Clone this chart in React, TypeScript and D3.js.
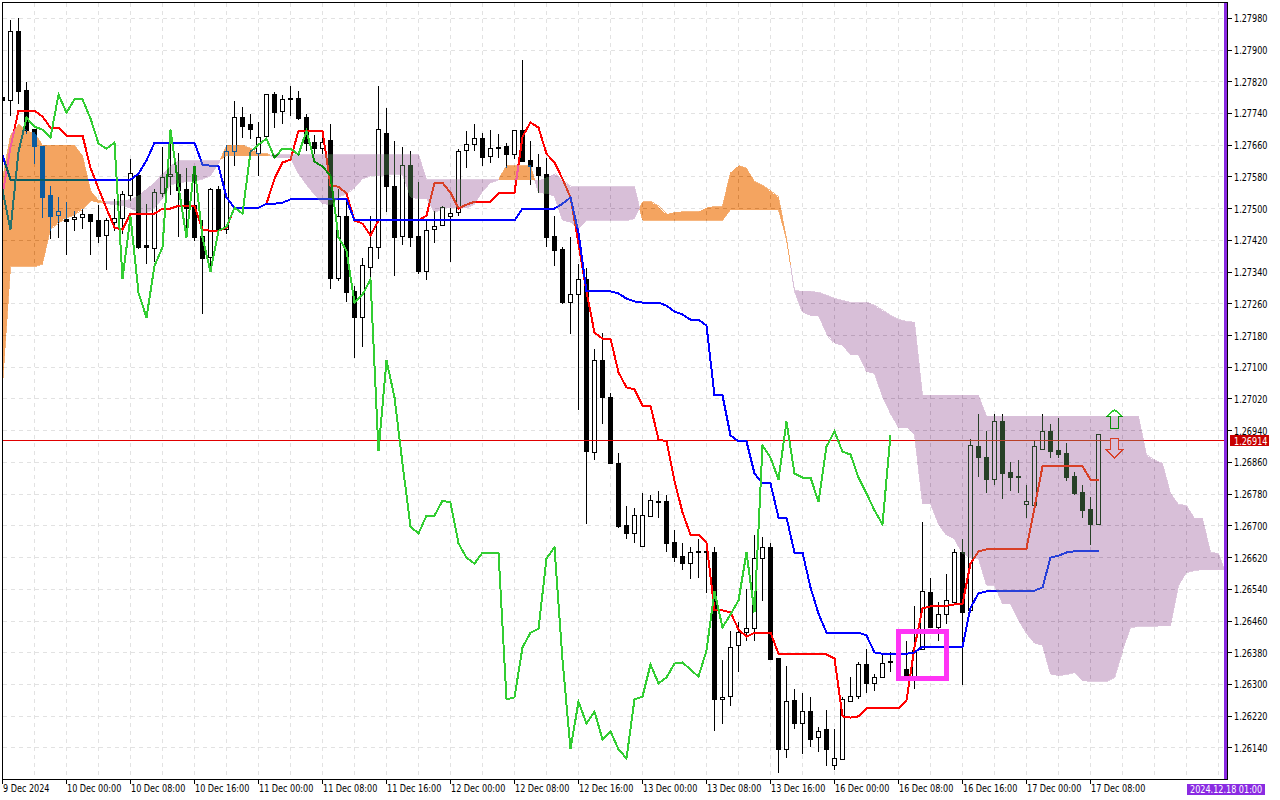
import React from "react";
import * as d3 from "d3";

// All prices in points: 127980 means 1.27980. One bar is one hour; bar 0 is 9 Dec 2024.
const opens = [127781,127773,127947,127798,127700,127657,127534,127483,127473,127473,127478,127486,127471,127433,127466,127476,127534,127584,127408,127400,127539,127582,127587,127549,127508,127430,127377,127549,127448,127644,127730,127713,127639,127682,127788,127745,127778,127778,127730,127667,127652,127672,127324,127481,127292,127226,127352,127403,127690,127556,127430,127609,127430,127342,127448,127458,127481,127491,127647,127662,127677,127632,127655,127657,127637,127697,127622,127604,127587,127430,127398,127264,127284,127322,126886,127118,127025,126858,126702,126682,126649,126725,126762,126762,126659,126624,126606,126636,126636,126634,126264,126271,126400,126432,126442,126619,126647,126367,126138,126261,126203,126233,126168,126188,126097,126112,126258,126271,126352,126304,126319,126359,126342,126339,126321,126390,126533,126445,126478,126508,126634,126488,126901,126873,126818,126964,126836,126825,126755,126752,126894,126939,126891,126883,126825,126785,126742,126705];
const closes = [127773,127947,127796,127697,127657,127529,127481,127493,127468,127478,127486,127468,127430,127471,127476,127536,127589,127403,127403,127541,127579,127587,127546,127501,127428,127375,127549,127448,127644,127730,127707,127700,127680,127788,127743,127776,127776,127728,127665,127652,127667,127324,127481,127289,127226,127357,127403,127700,127556,127428,127609,127428,127342,127445,127455,127503,127488,127644,127662,127677,127629,127652,127652,127637,127697,127619,127607,127584,127428,127395,127264,127284,127322,126889,127118,127025,126858,126699,126682,126727,126727,126765,126760,126657,126621,126606,126634,126634,126634,126264,126269,126395,126432,126442,126619,126647,126364,126138,126258,126203,126233,126163,126183,126138,126115,126264,126271,126352,126304,126319,126354,126357,126339,126321,126387,126536,126445,126478,126513,126634,126483,126904,126873,126818,126964,126833,126823,126823,126762,126901,126939,126888,126881,126823,126783,126740,126705,126931];
const highs = [127781,127977,127982,127821,127702,127657,127559,127529,127518,127496,127501,127486,127511,127478,127524,127544,127627,127589,127513,127551,127655,127697,127642,127604,127604,127471,127554,127559,127660,127773,127758,127740,127718,127788,127796,127788,127811,127798,127740,127687,127685,127713,127551,127526,127307,127377,127483,127811,127755,127672,127657,127647,127569,127473,127496,127508,127503,127652,127697,127713,127692,127700,127690,127665,127697,127876,127672,127639,127629,127481,127403,127430,127362,127350,127148,127188,127035,126886,126750,126745,126785,126778,126788,126778,126692,126657,126647,126669,126647,126647,126364,126437,126458,126543,126679,126674,126657,126367,126347,126291,126279,126269,126195,126238,126190,126269,126319,126357,126392,126329,126379,126384,126374,126412,126498,126712,126571,126510,126579,126642,126667,126921,126982,126941,126984,126984,126861,126866,126805,126916,126982,126957,126974,126909,126838,126803,126775,126931];
const lows = [127773,127735,127765,127690,127614,127478,127425,127428,127385,127445,127450,127385,127415,127347,127445,127438,127521,127398,127362,127365,127529,127534,127430,127428,127420,127236,127345,127440,127438,127607,127680,127677,127584,127682,127705,127715,127735,127723,127647,127639,127639,127299,127319,127266,127125,127153,127327,127375,127493,127332,127408,127405,127337,127322,127415,127458,127367,127483,127604,127647,127607,127617,127629,127604,127627,127619,127561,127539,127403,127357,127261,127186,126994,126707,126866,126957,126858,126697,126669,126659,126649,126725,126722,126636,126611,126591,126568,126571,126533,126183,126203,126248,126332,126412,126412,126513,126364,126077,126117,126188,126127,126143,126130,126097,126087,126112,126258,126264,126281,126284,126319,126332,126309,126309,126291,126390,126445,126412,126455,126508,126299,126483,126825,126783,126805,126768,126788,126783,126720,126752,126894,126871,126871,126815,126780,126720,126654,126705];

const tenkan = [127534,127655,127748,127748,127748,127733,127705,127705,127685,127685,127685,127604,127551,127501,127453,127448,127488,127488,127488,127488,127501,127501,127508,127508,127508,127448,127445,127445,127453,127503,127503,127503,127503,127513,127576,127617,127624,127697,127697,127697,127697,127559,127556,127539,127471,127463,127433,127471,127471,127471,127471,127471,127471,127483,127566,127566,127541,127501,127511,127518,127518,127518,127539,127541,127541,127682,127718,127705,127639,127617,127576,127529,127413,127292,127188,127173,127173,127088,127050,127045,127004,127004,126919,126914,126815,126735,126679,126679,126659,126488,126488,126483,126440,126422,126432,126432,126432,126379,126379,126379,126379,126379,126379,126377,126367,126221,126218,126221,126241,126241,126241,126241,126241,126261,126395,126493,126498,126500,126500,126503,126505,126606,126637,126642,126644,126644,126644,126644,126644,126747,126851,126853,126853,126853,126851,126851,126818,126818];
const kijun = [127635,127574,127574,127574,127574,127574,127574,127574,127574,127574,127574,127574,127574,127574,127574,127574,127574,127589,127622,127667,127667,127667,127667,127667,127667,127612,127609,127609,127529,127503,127503,127503,127503,127513,127513,127516,127524,127524,127524,127524,127524,127524,127524,127524,127471,127471,127471,127471,127471,127471,127471,127471,127471,127471,127471,127471,127471,127471,127471,127471,127471,127471,127471,127471,127471,127501,127501,127501,127501,127501,127513,127529,127440,127292,127292,127292,127292,127287,127274,127267,127264,127264,127264,127256,127241,127234,127221,127221,127206,127030,127030,126929,126914,126914,126833,126808,126808,126722,126722,126634,126634,126546,126480,126432,126432,126432,126432,126432,126425,126382,126379,126379,126379,126379,126382,126397,126397,126397,126397,126397,126397,126495,126531,126536,126538,126538,126538,126538,126538,126538,126546,126621,126626,126634,126637,126637,126639,126639];
const chikou = [127549,127448,127644,127730,127707,127700,127680,127788,127743,127776,127776,127728,127665,127652,127667,127324,127481,127289,127226,127357,127403,127700,127556,127428,127609,127428,127342,127445,127455,127503,127488,127644,127662,127677,127629,127652,127652,127637,127697,127619,127607,127584,127428,127395,127264,127284,127322,126889,127118,127025,126858,126699,126682,126727,126727,126765,126760,126657,126621,126606,126634,126634,126634,126264,126269,126395,126432,126442,126619,126647,126364,126138,126258,126203,126233,126163,126183,126138,126115,126264,126271,126352,126304,126319,126354,126357,126339,126321,126387,126536,126445,126478,126513,126634,126483,126904,126873,126818,126964,126833,126823,126823,126762,126901,126939,126888,126881,126823,126783,126740,126705,126931];
const spanA = [127576,127685,127713,127695,127692,127660,127660,127660,127660,127660,127634,127546,127521,127513,127511,127508,127501,127491,127491,127503,127526,127561,127566,127569,127571,127576,127584,127614,127660,127660,127660,127652,127639,127639,127629,127629,127629,127589,127561,127536,127513,127511,127531,127539,127554,127576,127584,127584,127587,127587,127587,127529,127526,127526,127491,127503,127503,127503,127503,127513,127544,127566,127574,127609,127609,127609,127609,127541,127539,127531,127471,127466,127450,127471,127471,127471,127471,127471,127471,127476,127518,127518,127506,127486,127491,127493,127493,127493,127503,127506,127506,127592,127609,127602,127569,127559,127544,127529,127425,127292,127239,127231,127231,127186,127161,127156,127133,127133,127090,127085,127027,126984,126949,126949,126931,126757,126757,126705,126677,126667,126631,126619,126619,126551,126551,126505,126505,126463,126430,126405,126400,126327,126324,126327,126332,126311,126309,126309,126309,126319,126387,126445,126448,126448,126448,126450,126450,126551,126584,126589,126591,126591,126591,126591];
const spanB = [127055,127355,127355,127355,127355,127362,127450,127466,127478,127486,127501,127521,127516,127518,127518,127521,127524,127534,127551,127566,127589,127609,127622,127622,127622,127622,127622,127622,127634,127634,127634,127634,127634,127634,127637,127637,127637,127637,127637,127637,127637,127637,127637,127637,127637,127637,127637,127637,127637,127637,127637,127637,127637,127574,127574,127574,127574,127574,127574,127574,127574,127574,127574,127574,127574,127574,127574,127571,127579,127589,127571,127556,127556,127556,127556,127556,127556,127556,127556,127556,127471,127471,127471,127471,127471,127471,127471,127471,127471,127471,127471,127498,127498,127498,127498,127498,127498,127498,127423,127294,127292,127292,127289,127282,127274,127269,127264,127264,127264,127256,127244,127231,127221,127216,127214,127030,127030,127030,127030,127030,127030,127030,127030,126977,126977,126977,126977,126977,126977,126977,126977,126977,126977,126977,126977,126977,126977,126977,126977,126977,126977,126977,126977,126879,126866,126858,126783,126755,126752,126720,126720,126634,126631,126578];

const priceTicks = ["1.27980","1.27900","1.27820","1.27740","1.27660","1.27580","1.27500","1.27420","1.27340","1.27260","1.27180","1.27100","1.27020","1.26940","1.26860","1.26780","1.26700","1.26620","1.26540","1.26460","1.26380","1.26300","1.26220","1.26140"];
const timeTicks = ["9 Dec 2024","10 Dec 00:00","10 Dec 08:00","10 Dec 16:00","11 Dec 00:00","11 Dec 08:00","11 Dec 16:00","12 Dec 00:00","12 Dec 08:00","12 Dec 16:00","13 Dec 00:00","13 Dec 08:00","13 Dec 16:00","16 Dec 00:00","16 Dec 08:00","16 Dec 16:00","17 Dec 00:00","17 Dec 08:00"];
const lastPrice = 126914;
const lastPriceLabel = "1.26914";
const serverTime = "2024.12.18 01:00";
const boxBars = [112, 118];
const boxPrices = [126436, 126316];
const arrowBar = 139;
const buyArrowPrice = 126994;
const sellArrowPrice = 126921;

const x = d3.scaleLinear().domain([0, 153]).range([2.5, 1226.5]);
const y = d3.scaleLinear().domain([126140, 127980]).range([748.5, 18.5]);
const axisY = d3.scaleLinear().domain([126140, 127980]).range([747.9, 18.3]);
const font = "'DejaVu Sans Condensed', 'Liberation Sans', Arial, sans-serif";

const seriesLine = d3.line<number>().x((_, i) => x(i)).y((d) => y(d));

type CloudPoint = { i: number; a: number; b: number };
const cloudPoints: CloudPoint[] = [];
spanA.forEach((a, i) => {
  const b = spanB[i];
  cloudPoints.push({ i, a, b });
  if (i + 1 < spanA.length) {
    const d0 = a - b;
    const d1 = spanA[i + 1] - spanB[i + 1];
    if (d0 * d1 < 0) {
      const t = d0 / (d0 - d1);
      const v = a + t * (spanA[i + 1] - a);
      cloudPoints.push({ i: i + t, a: v, b: v });
    }
  }
});
const area = (test: (p: CloudPoint) => boolean) =>
  d3.area<CloudPoint>().defined(test).x((p) => x(p.i)).y0((p) => y(p.b)).y1((p) => y(p.a))(cloudPoints) ?? "";
const orangePath = area((p) => p.a >= p.b);
const purplePath = area((p) => p.a <= p.b);

// Cloud colours are drawn as the inverse of SandyBrown and Thistle with a difference blend,
// which reproduces the XOR painting of the platform over candles and lines.
const orangeInverse = "#0b5b9f";
const purpleInverse = "#274027";

const Label = ({ px, py, fill, children }: { px: number; py: number; fill: string; children: string }) => (
  <text transform={`translate(${px},${py}) scale(0.9,1)`} fontSize={10} fill={fill}>
    {children}
  </text>
);

export default function App() {
  const gridX = d3.range(0, 39).map((k) => x(k * 4));
  return (
    <svg width={1280} height={800} style={{ position: "fixed", left: 0, top: 0 }} fontFamily={font}>
      <defs>
        <clipPath id="plot">
          <rect x={3} y={3} width={1221} height={776} />
        </clipPath>
      </defs>
      <rect width={1280} height={800} fill="#fff" />
      <g clipPath="url(#plot)">
        <rect x={0} y={0} width={1280} height={800} fill="#fff" />
        <g stroke="#e2e2e2" strokeDasharray="4 4" shapeRendering="crispEdges">
          {gridX.map((g) => (
            <line key={g} x1={g} x2={g} y1={3} y2={779} />
          ))}
          {priceTicks.map((t) => (
            <line key={t} x1={3} x2={1224} y1={axisY(+t * 100000)} y2={axisY(+t * 100000)} />
          ))}
        </g>
        <g shapeRendering="crispEdges">
          {closes.map((c, i) => {
            const o = opens[i];
            const up = c > o;
            const top = y(Math.max(o, c));
            const bot = y(Math.min(o, c));
            return (
              <g key={i}>
                <line x1={x(i)} x2={x(i)} y1={y(highs[i])} y2={y(lows[i])} stroke="#000" />
                <rect x={x(i) - 2} width={4} y={top} height={Math.max(bot - top, 0.6)} fill={up ? "#fff" : "#000"} stroke="#000" />
              </g>
            );
          })}
        </g>
        <line x1={3} x2={1224} y1={axisY(lastPrice)} y2={axisY(lastPrice)} stroke="#e00000" shapeRendering="crispEdges" />
        <g fill="none" strokeWidth={2} shapeRendering="crispEdges">
          <path d={seriesLine(tenkan) ?? ""} stroke="#ff0000" />
          <path d={seriesLine(kijun) ?? ""} stroke="#0000ff" />
          <path d={seriesLine(chikou) ?? ""} stroke="#32cd32" />
        </g>
        <rect
          x={x(boxBars[0])}
          y={y(boxPrices[0])}
          width={x(boxBars[1]) - x(boxBars[0])}
          height={y(boxPrices[1]) - y(boxPrices[0])}
          fill="none"
          stroke="#ff33f5"
          strokeWidth={5}
          shapeRendering="crispEdges"
        />
        <path
          transform={`translate(${x(arrowBar)},${y(buyArrowPrice)})`}
          d="M0,0L8,7L4,7L4,19L-4,19L-4,7L-8,7Z"
          fill="#fff"
          stroke="#32cd32"
          strokeWidth={1.5}
          shapeRendering="crispEdges"
        />
        <path
          transform={`translate(${x(arrowBar)},${y(sellArrowPrice)})`}
          d="M-4,0L4,0L4,11L8,11L0,19L-8,11L-4,11Z"
          fill="#fff"
          stroke="#ff0000"
          strokeWidth={1.5}
          shapeRendering="crispEdges"
        />
        <g style={{ mixBlendMode: "difference" }} shapeRendering="crispEdges">
          <path d={orangePath} fill={orangeInverse} stroke={orangeInverse} strokeWidth={0.8} />
          <path d={purplePath} fill={purpleInverse} stroke={purpleInverse} strokeWidth={0.8} />
        </g>
      </g>
      <rect x={1224} y={3} width={3} height={776} fill="#8a2be2" shapeRendering="crispEdges" />
      <g stroke="#000" shapeRendering="crispEdges">
        <line x1={2.5} x2={2.5} y1={2} y2={780} />
        <line x1={2} x2={1228} y1={2.5} y2={2.5} />
        <line x1={1227.5} x2={1227.5} y1={2} y2={780} />
        <line x1={2} x2={1228} y1={779.5} y2={779.5} />
        {priceTicks.map((t) => (
          <line key={t} x1={1228} x2={1232} y1={axisY(+t * 100000)} y2={axisY(+t * 100000)} />
        ))}
        {timeTicks.map((t, k) => (
          <line key={t} x1={x(k * 8)} x2={x(k * 8)} y1={780} y2={784} />
        ))}
      </g>
      {priceTicks.map((t) => (
        <Label key={t} px={1234} py={axisY(+t * 100000) + 4} fill="#000">{t}</Label>
      ))}
      {timeTicks.map((t, k) => (
        <Label key={t} px={x(k * 8) + 0.5} py={792} fill="#000">{t}</Label>
      ))}
      <rect x={1230} y={435} width={39} height={11} fill="#c80000" shapeRendering="crispEdges" />
      <Label px={1234} py={axisY(lastPrice) + 4} fill="#fff">{lastPriceLabel}</Label>
      <rect x={1187} y={784} width={78} height={11} fill="#8a2be2" shapeRendering="crispEdges" />
      <Label px={1190} py={793} fill="#fff">{serverTime}</Label>
    </svg>
  );
}
